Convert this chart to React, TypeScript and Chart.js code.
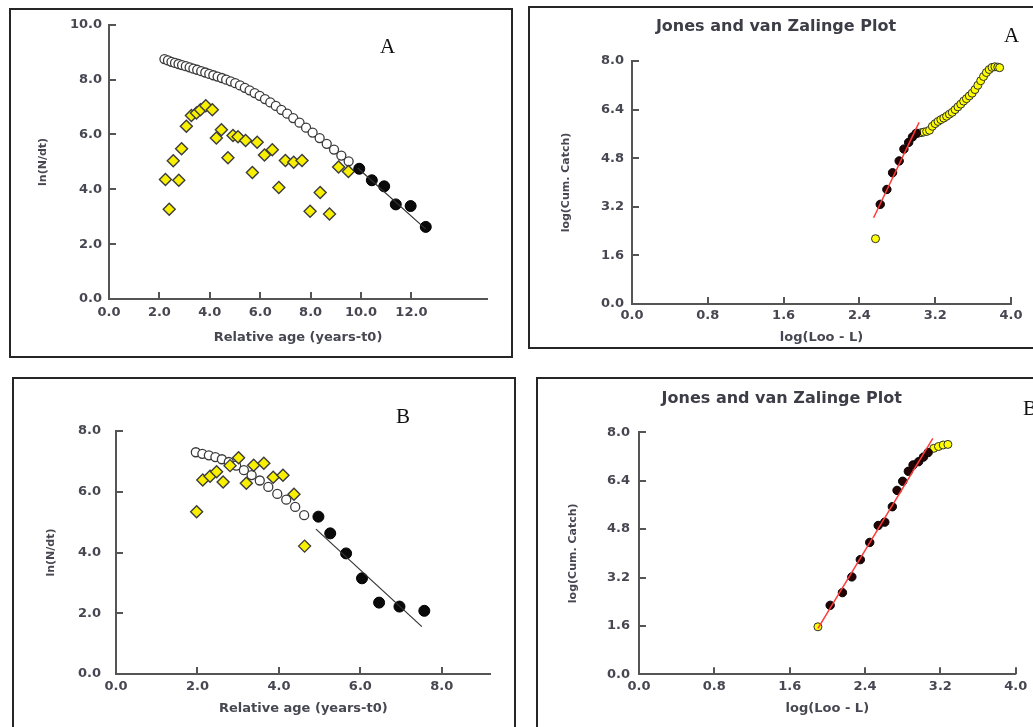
import React, { useEffect, useRef } from "react";
import { Chart, registerables } from "chart.js";

Chart.register(...registerables);

// ---------- Panel A (top-left): length-converted catch curve ----------
const aOpenAge = [2.20, 2.34, 2.48, 2.62, 2.76, 2.90, 3.05, 3.20, 3.35, 3.50, 3.66, 3.82, 3.98, 4.14, 4.31, 4.48, 4.65, 4.83, 5.01, 5.20, 5.39, 5.58, 5.78, 5.98, 6.19, 6.40, 6.62, 6.84, 7.07, 7.31, 7.56, 7.82, 8.08, 8.36, 8.64, 8.93, 9.22, 9.51];
const aOpenLnN = [8.75, 8.70, 8.65, 8.61, 8.57, 8.53, 8.49, 8.45, 8.40, 8.36, 8.31, 8.26, 8.21, 8.16, 8.11, 8.06, 8.00, 7.94, 7.87, 7.79, 7.70, 7.61, 7.51, 7.41, 7.29, 7.17, 7.04, 6.90, 6.76, 6.60, 6.43, 6.25, 6.07, 5.87, 5.66, 5.45, 5.23, 5.02];
const aYellowAge = [2.24, 2.39, 2.55, 2.77, 2.88, 3.07, 3.27, 3.47, 3.63, 3.84, 4.10, 4.26, 4.46, 4.72, 4.92, 5.12, 5.42, 5.69, 5.88, 6.17, 6.48, 6.74, 7.00, 7.33, 7.66, 7.98, 8.38, 8.75, 9.11, 9.50];
const aYellowLnN = [4.36, 3.27, 5.04, 4.33, 5.48, 6.30, 6.69, 6.78, 6.90, 7.05, 6.90, 5.87, 6.17, 5.15, 5.96, 5.92, 5.78, 4.61, 5.72, 5.25, 5.44, 4.07, 5.05, 4.99, 5.05, 3.20, 3.88, 3.10, 4.81, 4.65];
const aBlackAge = [9.93, 10.43, 10.92, 11.38, 11.97, 12.57];
const aBlackLnN = [4.75, 4.33, 4.11, 3.45, 3.39, 2.63];
const aFitAge = [9.87, 12.57];
const aFitLnN = [4.78, 2.55];
const aXTicks = [0, 2, 4, 6, 8, 10, 12];
const aYTicks = [0, 2, 4, 6, 8, 10];

// ---------- Panel A (top-right): Jones and van Zalinge ----------
const jaYellowX = [2.57, 3.02, 3.05, 3.08, 3.11, 3.14, 3.17, 3.20, 3.23, 3.26, 3.29, 3.32, 3.35, 3.38, 3.41, 3.44, 3.47, 3.50, 3.53, 3.56, 3.59, 3.62, 3.65, 3.68, 3.71, 3.74, 3.77, 3.80, 3.83, 3.86, 3.88];
const jaYellowY = [2.15, 5.62, 5.64, 5.66, 5.68, 5.72, 5.85, 5.94, 6.01, 6.07, 6.12, 6.18, 6.25, 6.31, 6.40, 6.49, 6.58, 6.68, 6.76, 6.85, 6.94, 7.06, 7.20, 7.35, 7.49, 7.62, 7.72, 7.79, 7.81, 7.80, 7.78];
const jaBlackX = [2.62, 2.69, 2.75, 2.82, 2.87, 2.92, 2.96, 3.00];
const jaBlackY = [3.28, 3.77, 4.32, 4.71, 5.10, 5.32, 5.50, 5.62];
const jaFitX = [2.55, 3.03];
const jaFitY = [2.84, 5.98];
const jXTicks = [0, 0.8, 1.6, 2.4, 3.2, 4.0];
const jYTicks = [0, 1.6, 3.2, 4.8, 6.4, 8.0];

// ---------- Panel B (bottom-left): catch curve ----------
const bOpenAge = [1.96, 2.12, 2.28, 2.44, 2.60, 2.77, 2.95, 3.14, 3.33, 3.53, 3.74, 3.96, 4.18, 4.40, 4.62];
const bOpenLnN = [7.30, 7.25, 7.20, 7.14, 7.07, 6.98, 6.86, 6.71, 6.55, 6.37, 6.16, 5.93, 5.74, 5.50, 5.23];
const bYellowAge = [1.98, 2.13, 2.31, 2.47, 2.63, 2.80, 3.01, 3.20, 3.38, 3.63, 3.86, 4.10, 4.37, 4.63];
const bYellowLnN = [5.34, 6.39, 6.51, 6.66, 6.32, 6.86, 7.12, 6.28, 6.87, 6.94, 6.48, 6.54, 5.92, 4.21];
const bBlackAge = [4.97, 5.26, 5.65, 6.04, 6.46, 6.96, 7.57];
const bBlackLnN = [5.18, 4.63, 3.97, 3.15, 2.35, 2.22, 2.08];
const bFitAge = [4.91, 7.51];
const bFitLnN = [4.77, 1.56];
const bXTicks = [0, 2, 4, 6, 8];
const bYTicks = [0, 2, 4, 6, 8];

// ---------- Panel B (bottom-right): Jones and van Zalinge ----------
const jbYellowX = [1.90, 3.13, 3.18, 3.23, 3.28];
const jbYellowY = [1.57, 7.47, 7.53, 7.58, 7.60];
const jbBlackX = [2.03, 2.16, 2.26, 2.35, 2.45, 2.54, 2.61, 2.69, 2.74, 2.80, 2.86, 2.91, 2.97, 3.02, 3.07];
const jbBlackY = [2.28, 2.70, 3.22, 3.79, 4.36, 4.92, 5.03, 5.54, 6.08, 6.38, 6.71, 6.92, 7.03, 7.18, 7.33];
const jbFitX = [1.90, 3.12];
const jbFitY = [1.52, 7.80];

const FONT = '"DejaVu Sans", "Liberation Sans", sans-serif';
const TXT = "#474752";
const AXIS = "#555555";

const pts = (xs: number[], ys: number[]) => xs.map((x, i) => ({ x, y: ys[i] }));

const inwardTicks = {
  id: "inwardTicks",
  beforeDatasetsDraw(chart: any) {
    const { ctx, chartArea, scales } = chart;
    ctx.save();
    ctx.strokeStyle = AXIS;
    ctx.lineWidth = 2;
    scales.y.ticks.forEach((t: any) => {
      const py = Math.round(scales.y.getPixelForValue(t.value));
      ctx.beginPath();
      ctx.moveTo(chartArea.left, py);
      ctx.lineTo(chartArea.left + 7, py);
      ctx.stroke();
    });
    scales.x.ticks.forEach((t: any) => {
      const px = Math.round(scales.x.getPixelForValue(t.value));
      ctx.beginPath();
      ctx.moveTo(px, chartArea.bottom);
      ctx.lineTo(px, chartArea.bottom - 7);
      ctx.stroke();
    });
    ctx.restore();
  },
};

type Opts = {
  datasets: any[];
  xMax: number;
  yMax: number;
  xTicks: number[];
  yTicks: number[];
  xTitle: string;
  yTitle: string;
  yWidth: number;
  xHeight: number;
  padding: any;
  title?: { text: string; top: number; bottom: number };
  yTickPad: number;
  xTickPad: number;
  yTitlePad: number;
  xTitlePad: number;
};

function buildConfig(o: Opts): any {
  const tickFont = { family: FONT, size: 13, weight: "bold" as const };
  return {
    type: "scatter",
    data: { datasets: o.datasets },
    plugins: [inwardTicks],
    options: {
      animation: false,
      responsive: false,
      maintainAspectRatio: false,
      layout: { padding: o.padding },
      plugins: {
        legend: { display: false },
        tooltip: { enabled: false },
        title: o.title
          ? {
              display: true,
              text: o.title.text,
              color: "#3d3d48",
              font: { family: FONT, size: 16, weight: "bold" },
              padding: { top: o.title.top, bottom: o.title.bottom },
            }
          : { display: false },
      },
      scales: {
        x: {
          type: "linear",
          min: 0,
          max: o.xMax,
          afterBuildTicks: (ax: any) => {
            ax.ticks = o.xTicks.map((v) => ({ value: v }));
          },
          afterFit: (s: any) => {
            s.height = o.xHeight;
          },
          grid: { display: false, drawTicks: false },
          border: { display: true, color: AXIS, width: 2 },
          ticks: {
            padding: o.xTickPad,
            color: TXT,
            font: tickFont,
            maxRotation: 0,
            autoSkip: false,
            callback: (v: any) => Number(v).toFixed(1),
          },
          title: {
            display: true,
            text: o.xTitle,
            color: TXT,
            font: { family: FONT, size: 13, weight: "bold" },
            padding: { top: 0, bottom: o.xTitlePad },
          },
        },
        y: {
          type: "linear",
          min: 0,
          max: o.yMax,
          afterBuildTicks: (ax: any) => {
            ax.ticks = o.yTicks.map((v) => ({ value: v }));
          },
          afterFit: (s: any) => {
            s.width = o.yWidth;
          },
          grid: { display: false, drawTicks: false },
          border: { display: true, color: AXIS, width: 2 },
          ticks: {
            padding: o.yTickPad,
            color: TXT,
            font: tickFont,
            autoSkip: false,
            callback: (v: any) => Number(v).toFixed(1),
          },
          title: {
            display: true,
            text: o.yTitle,
            color: TXT,
            font: { family: FONT, size: 11, weight: "bold" },
            padding: { top: o.yTitlePad, bottom: 0 },
          },
        },
      },
    },
  };
}

const fitLine = (data: any[], color: string, width: number) => ({
  data,
  showLine: true,
  borderColor: color,
  borderWidth: width,
  pointRadius: 0,
  fill: false,
});
const openCircles = (data: any[]) => ({
  data,
  pointStyle: "circle",
  pointRadius: 4.5,
  pointBackgroundColor: "#ffffff",
  pointBorderColor: "#3a3a3a",
  pointBorderWidth: 1.3,
});
const blackDots = (data: any[], r: number) => ({
  data,
  pointStyle: "circle",
  pointRadius: r,
  pointBackgroundColor: "#0a0a0a",
  pointBorderColor: "#000000",
  pointBorderWidth: 1,
});
const yellowDiamonds = (data: any[]) => ({
  data,
  pointStyle: "rectRot",
  pointRadius: 6,
  pointBackgroundColor: "#f8f000",
  pointBorderColor: "#3c3c3c",
  pointBorderWidth: 1.4,
});
const yellowDots = (data: any[]) => ({
  data,
  pointStyle: "circle",
  pointRadius: 4,
  pointBackgroundColor: "#ffff00",
  pointBorderColor: "#2e2e2e",
  pointBorderWidth: 1,
});
const darkDots = (data: any[]) => ({
  data,
  pointStyle: "circle",
  pointRadius: 4.2,
  pointBackgroundColor: "#260303",
  pointBorderColor: "#000000",
  pointBorderWidth: 1,
});

const panels = [
  {
    left: 11,
    top: 10,
    width: 500,
    height: 345,
    make: () =>
      buildConfig({
        datasets: [
          fitLine(pts(aFitAge, aFitLnN), "#333333", 1.2),
          blackDots(pts(aBlackAge, aBlackLnN), 5.5),
          yellowDiamonds(pts(aYellowAge, aYellowLnN)),
          openCircles(pts(aOpenAge, aOpenLnN)),
        ],
        xMax: 15,
        yMax: 10,
        xTicks: aXTicks,
        yTicks: aYTicks,
        xTitle: "Relative age (years-t0)",
        yTitle: "ln(N/dt)",
        yWidth: 98,
        xHeight: 56,
        padding: { top: 14, right: 24, left: 0, bottom: 0 },
        yTickPad: 7,
        xTickPad: 6,
        yTitlePad: 26,
        xTitlePad: 10,
      }),
  },
  {
    left: 519,
    top: 0,
    width: 514,
    height: 349,
    make: () =>
      buildConfig({
        datasets: [
          fitLine(pts(jaFitX, jaFitY), "#ff3a3a", 1.5),
          darkDots(pts(jaBlackX, jaBlackY)),
          yellowDots(pts(jaYellowX, jaYellowY)),
        ],
        xMax: 4,
        yMax: 8,
        xTicks: jXTicks,
        yTicks: jYTicks,
        xTitle: "log(Loo - L)",
        yTitle: "log(Cum. Catch)",
        yWidth: 91,
        xHeight: 45,
        padding: { top: 0, right: 22, left: 22, bottom: 0 },
        title: { text: "Jones and van Zalinge Plot", top: 17.4, bottom: 24.4 },
        yTickPad: 8,
        xTickPad: 3.5,
        yTitlePad: 19,
        xTitlePad: 4,
      }),
  },
  {
    left: 14,
    top: 379,
    width: 500,
    height: 348,
    make: () =>
      buildConfig({
        datasets: [
          fitLine(pts(bFitAge, bFitLnN), "#333333", 1.2),
          blackDots(pts(bBlackAge, bBlackLnN), 5.5),
          yellowDiamonds(pts(bYellowAge, bYellowLnN)),
          openCircles(pts(bOpenAge, bOpenLnN)),
        ],
        xMax: 9.2,
        yMax: 8,
        xTicks: bXTicks,
        yTicks: bYTicks,
        xTitle: "Relative age (years-t0)",
        yTitle: "ln(N/dt)",
        yWidth: 102,
        xHeight: 53,
        padding: { top: 52, right: 23.3, left: 0, bottom: 0 },
        yTickPad: 15,
        xTickPad: 5,
        yTitlePad: 31,
        xTitlePad: 11,
      }),
  },
  {
    left: 530,
    top: 379,
    width: 503,
    height: 348,
    make: () =>
      buildConfig({
        datasets: [
          fitLine(pts(jbFitX, jbFitY), "#ff3a3a", 1.5),
          darkDots(pts(jbBlackX, jbBlackY)),
          yellowDots(pts(jbYellowX, jbYellowY)),
        ],
        xMax: 4,
        yMax: 8,
        xTicks: jXTicks,
        yTicks: jYTicks,
        xTitle: "log(Loo - L)",
        yTitle: "log(Cum. Catch)",
        yWidth: 91.3,
        xHeight: 52.7,
        padding: { top: 0, right: 17.3, left: 17.7, bottom: 0 },
        title: { text: "Jones and van Zalinge Plot", top: 10.7, bottom: 23.4 },
        yTickPad: 9,
        xTickPad: 4.6,
        yTitlePad: 19,
        xTitlePad: 11,
      }),
  },
];

const boxes = [
  { left: 9, top: 8, width: 504, height: 350 },
  { left: 528, top: 6, width: 530, height: 343 },
  { left: 12, top: 377, width: 504, height: 380 },
  { left: 536, top: 377, width: 530, height: 380 },
];

const letters = [
  { text: "A", x: 387.5, y: 46, center: true },
  { text: "A", x: 1011.7, y: 35, center: true },
  { text: "B", x: 403, y: 415.5, center: true },
  { text: "B", x: 1023, y: 407.5, center: false },
];

function ChartPanel({ p }: { p: (typeof panels)[number] }) {
  const ref = useRef<HTMLCanvasElement | null>(null);
  useEffect(() => {
    const chart = new Chart(ref.current as HTMLCanvasElement, p.make());
    return () => chart.destroy();
  }, []);
  return (
    <canvas
      ref={ref}
      width={p.width}
      height={p.height}
      style={{ position: "absolute", left: p.left, top: p.top, width: p.width, height: p.height }}
    />
  );
}

export default function App() {
  return (
    <div
      style={{
        position: "absolute",
        left: 0,
        top: 0,
        width: 1033,
        height: 727,
        overflow: "hidden",
        background: "#ffffff",
      }}
    >
      {boxes.map((b, i) => (
        <div
          key={"b" + i}
          style={{
            position: "absolute",
            left: b.left,
            top: b.top,
            width: b.width,
            height: b.height,
            border: "2px solid #262626",
            boxSizing: "border-box",
          }}
        />
      ))}
      {panels.map((p, i) => (
        <ChartPanel key={"p" + i} p={p} />
      ))}
      {letters.map((l, i) => (
        <div
          key={"l" + i}
          style={{
            position: "absolute",
            left: l.x,
            top: l.y,
            transform: l.center ? "translate(-50%, -50%)" : "translate(0, -50%)",
            fontFamily: '"Liberation Serif", "DejaVu Serif", serif',
            fontSize: 21,
            lineHeight: 1,
            color: "#111111",
          }}
        >
          {l.text}
        </div>
      ))}
    </div>
  );
}
